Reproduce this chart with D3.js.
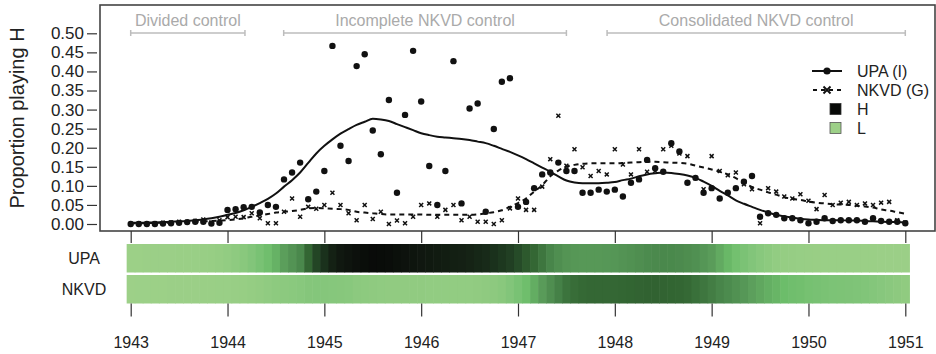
<!DOCTYPE html>
<html>
<head>
<meta charset="utf-8">
<script src="https://d3js.org/d3.v7.min.js"></script>
<style>
  html, body { margin: 0; padding: 0; background: #fff; }
  svg { display: block; font-family: "Liberation Sans", Arial, Helvetica, sans-serif; }
</style>
</head>
<body>
<svg id="chart" width="936" height="354"></svg>
<script>
// monthly observations, Jan 1943 .. Jan 1951
const startYear = 1943;
const years = [1943, 1944, 1945, 1946, 1947, 1948, 1949, 1950, 1951];
const yTicks = [0, 0.05, 0.10, 0.15, 0.20, 0.25, 0.30, 0.35, 0.40, 0.45, 0.50];

const upaPoints = [
  0.000, 0.000, 0.000, 0.000, 0.001, 0.002, 0.003, 0.005, 0.006, 0.006, 0.001, 0.003,
  0.037, 0.039, 0.044, 0.045, 0.030, 0.050, 0.045, 0.117, 0.135, 0.161, 0.065, 0.085,
  0.139, 0.467, 0.205, 0.165, 0.414, 0.445, 0.245, 0.183, 0.325, 0.082, 0.286, 0.454,
  0.321, 0.152, 0.050, 0.139, 0.427, 0.054, 0.303, 0.316, 0.032, 0.249, 0.373, 0.382,
  0.045, 0.058, 0.094, 0.130, 0.135, 0.161, 0.139, 0.139, 0.082, 0.082, 0.090, 0.085,
  0.090, 0.072, 0.108, 0.117, 0.168, 0.146, 0.137, 0.212, 0.190, 0.108, 0.121, 0.082,
  0.094, 0.067, 0.082, 0.094, 0.111, 0.126, 0.019, 0.028, 0.024, 0.015, 0.015, 0.010,
  0.002, 0.006, 0.015, 0.008, 0.010, 0.010, 0.010, 0.006, 0.015, 0.008, 0.006, 0.006, 0.002
];

const nkvdPoints = [
  0.000, 0.001, 0.000, 0.002, 0.003, 0.004, 0.006, 0.005, 0.008, 0.012, 0.004, 0.010,
  0.018, 0.019, 0.018, 0.028, 0.015, 0.002, 0.002, 0.032, 0.067, 0.019, 0.045, 0.040,
  0.050, 0.082, 0.050, 0.028, 0.010, 0.050, 0.013, 0.032, 0.000, 0.009, 0.002, 0.019,
  0.050, 0.054, 0.019, 0.037, 0.050, 0.010, 0.019, 0.006, 0.006, 0.000, 0.010, 0.041,
  0.067, 0.037, 0.037, 0.098, 0.170, 0.284, 0.153, 0.196, 0.149, 0.126, 0.139, 0.130,
  0.196, 0.156, 0.130, 0.196, 0.137, 0.139, 0.196, 0.205, 0.185, 0.178, 0.120, 0.091,
  0.178, 0.139, 0.128, 0.135, 0.104, 0.091, 0.002, 0.094, 0.085, 0.072, 0.067, 0.078,
  0.061, 0.039, 0.076, 0.050, 0.056, 0.058, 0.050, 0.054, 0.050, 0.056, 0.058, 0.010, 0.004
];

// smoothed trends (also drive the strip shading)
const upaSmooth = [
  0.003, 0.003, 0.004, 0.004, 0.005, 0.006, 0.007, 0.008, 0.010, 0.012, 0.015, 0.019,
  0.024, 0.029, 0.036, 0.045, 0.055, 0.066, 0.080, 0.098, 0.115, 0.135, 0.160, 0.185,
  0.205, 0.222, 0.237, 0.249, 0.260, 0.268, 0.276, 0.274, 0.270, 0.262, 0.254, 0.246,
  0.238, 0.233, 0.229, 0.227, 0.225, 0.223, 0.220, 0.216, 0.212, 0.205, 0.197, 0.189,
  0.180, 0.170, 0.159, 0.148, 0.137, 0.125, 0.114, 0.109, 0.107, 0.107, 0.107, 0.108,
  0.110, 0.115, 0.119, 0.125, 0.130, 0.133, 0.135, 0.134, 0.131, 0.127, 0.121, 0.111,
  0.100, 0.087, 0.075, 0.062, 0.053, 0.045, 0.037, 0.030, 0.024, 0.020, 0.017, 0.014,
  0.012, 0.011, 0.010, 0.010, 0.010, 0.009, 0.009, 0.008, 0.007, 0.006, 0.005, 0.005, 0.004
];

const nkvdSmooth = [
  0.001, 0.002, 0.002, 0.003, 0.003, 0.004, 0.005, 0.006, 0.006, 0.007, 0.008, 0.009,
  0.010, 0.012, 0.015, 0.019, 0.022, 0.026, 0.030, 0.032, 0.034, 0.037, 0.041, 0.042,
  0.041, 0.040, 0.039, 0.037, 0.032, 0.030, 0.028, 0.026, 0.025, 0.025, 0.025, 0.025,
  0.025, 0.024, 0.024, 0.024, 0.024, 0.024, 0.024, 0.025, 0.028, 0.031, 0.036, 0.045,
  0.055, 0.067, 0.085, 0.102, 0.125, 0.140, 0.150, 0.155, 0.158, 0.159, 0.159, 0.159,
  0.159, 0.160, 0.161, 0.162, 0.163, 0.163, 0.162, 0.161, 0.160, 0.158, 0.153, 0.148,
  0.143, 0.137, 0.130, 0.120, 0.108, 0.097, 0.090, 0.083, 0.077, 0.070, 0.066, 0.063,
  0.059, 0.056, 0.054, 0.052, 0.051, 0.050, 0.048, 0.046, 0.043, 0.038, 0.035, 0.031, 0.027
];

const periodNames = ['Divided control', 'Incomplete NKVD control', 'Consolidated NKVD control'];
const periodStart = [1943.0, 1944.58, 1947.92];
const periodEnd = [1944.18, 1947.5, 1951.0];

const stripNames = ['UPA', 'NKVD'];
const legendNames = ['UPA (I)', 'NKVD (G)', 'H', 'L'];

const svg = d3.select('#chart');

const x = d3.scaleLinear().domain([1943, 1951]).range([130.7, 905.3]);
const y = d3.scaleLinear().domain([0, 0.5]).range([224, 33.3]);
const shade = d3.scaleLinear()
  .domain([0, 0.02, 0.045, 0.07, 0.1, 0.135, 0.16, 0.19, 0.23, 0.28])
  .range(['#9dd088', '#95cd83', '#82c57a', '#6cbd6a', '#5a9c5a', '#4a884c', '#336633', '#203e22', '#111a11', '#080a08'])
  .clamp(true);

const t = (i) => startYear + i / 12;

// plot box
svg.append('rect')
  .attr('x', 100).attr('y', 5)
  .attr('width', 835).attr('height', 226)
  .attr('fill', 'none')
  .attr('stroke', '#444')
  .attr('stroke-width', 1.6);

// y axis
const yAxis = svg.append('g')
  .attr('transform', 'translate(97,0)')
  .call(d3.axisLeft(y).tickValues(yTicks).tickFormat(d3.format('.2f')).tickSize(10).tickPadding(3));
yAxis.select('.domain').remove();
yAxis.selectAll('line').attr('stroke', '#333').attr('stroke-width', 1.2);
yAxis.selectAll('text').attr('font-size', 17).attr('fill', '#222').attr('font-family', null);

svg.append('text')
  .attr('transform', 'translate(24,118) rotate(-90)')
  .attr('text-anchor', 'middle')
  .attr('font-size', 20)
  .attr('fill', '#222')
  .text('Proportion playing H');

// ticks under the top panel
const xTop = svg.append('g')
  .attr('transform', 'translate(0,231)')
  .call(d3.axisBottom(x).tickValues(years).tickSize(12).tickFormat(''));
xTop.select('.domain').remove();
xTop.selectAll('line').attr('stroke', '#333').attr('stroke-width', 1.2);

// period brackets
const periods = svg.append('g');
periodNames.forEach((name, i) => {
  const x0 = x(periodStart[i]), x1 = x(periodEnd[i]);
  const g = periods.append('g').attr('stroke', '#bdbdbd').attr('stroke-width', 1.5);
  g.append('line').attr('x1', x0).attr('x2', x1).attr('y1', 33).attr('y2', 33);
  g.append('line').attr('x1', x0).attr('x2', x0).attr('y1', 30).attr('y2', 36);
  g.append('line').attr('x1', x1).attr('x2', x1).attr('y1', 30).attr('y2', 36);
  periods.append('text')
    .attr('x', (x0 + x1) / 2).attr('y', 26)
    .attr('text-anchor', 'middle')
    .attr('font-size', 16)
    .attr('fill', '#aaaaaa')
    .text(name);
});

// smoothed lines
const line = d3.line()
  .x((d, i) => x(t(i)))
  .y((d) => y(d))
  .curve(d3.curveMonotoneX);

svg.append('path')
  .datum(nkvdSmooth)
  .attr('d', line)
  .attr('fill', 'none')
  .attr('stroke', '#111')
  .attr('stroke-width', 2)
  .attr('stroke-dasharray', '5,4');

svg.append('path')
  .datum(upaSmooth)
  .attr('d', line)
  .attr('fill', 'none')
  .attr('stroke', '#111')
  .attr('stroke-width', 2);

// NKVD observations: crosses
const cross = d3.symbol().type(d3.symbolX).size(12);
svg.append('g').selectAll('path')
  .data(nkvdPoints)
  .enter().append('path')
  .attr('transform', (d, i) => 'translate(' + x(t(i)) + ',' + y(d) + ')')
  .attr('d', cross)
  .attr('fill', 'none')
  .attr('stroke', '#111')
  .attr('stroke-width', 1.5);

// UPA observations: dots
svg.append('g').selectAll('circle')
  .data(upaPoints)
  .enter().append('circle')
  .attr('cx', (d, i) => x(t(i)))
  .attr('cy', (d) => y(d))
  .attr('r', 3.2)
  .attr('fill', '#111');

// legend
const legend = svg.append('g');
const ly = [71, 90, 109, 128];
legend.append('line').attr('x1', 812).attr('x2', 842).attr('y1', ly[0]).attr('y2', ly[0])
  .attr('stroke', '#111').attr('stroke-width', 2);
legend.append('circle').attr('cx', 827).attr('cy', ly[0]).attr('r', 3.6).attr('fill', '#111');
legend.append('line').attr('x1', 812).attr('x2', 842).attr('y1', ly[1]).attr('y2', ly[1])
  .attr('stroke', '#111').attr('stroke-width', 2).attr('stroke-dasharray', '4,4').attr('stroke-dashoffset', -1);
legend.append('path').attr('transform', 'translate(827,' + ly[1] + ')')
  .attr('d', d3.symbol().type(d3.symbolX).size(34))
  .attr('fill', 'none').attr('stroke', '#111').attr('stroke-width', 1.9);
legend.append('rect').attr('x', 830).attr('y', ly[2] - 5.5).attr('width', 11).attr('height', 11)
  .attr('fill', shade(0.28)).attr('stroke', '#333').attr('stroke-width', 0.8);
legend.append('rect').attr('x', 830).attr('y', ly[3] - 5.5).attr('width', 11).attr('height', 11)
  .attr('fill', shade(0)).attr('stroke', '#555').attr('stroke-width', 0.8);
legendNames.forEach((name, i) => {
  legend.append('text')
    .attr('x', 857).attr('y', ly[i])
    .attr('dy', '0.36em')
    .attr('font-size', 16)
    .attr('fill', '#222')
    .text(name);
});

// shaded strips
const cellW = (x(1951) - x(1943)) / 96;
const stripTop = [244, 275];
const stripH = 28.5;
[upaSmooth, nkvdSmooth].forEach((series, k) => {
  svg.append('g').selectAll('rect')
    .data(series)
    .enter().append('rect')
    .attr('x', (d, i) => x(t(i)) - cellW / 2)
    .attr('y', stripTop[k])
    .attr('width', cellW + 0.6)
    .attr('height', stripH)
    .attr('fill', (d) => shade(d));
  svg.append('text')
    .attr('x', 84).attr('y', stripTop[k] + stripH / 2)
    .attr('dy', '0.36em')
    .attr('text-anchor', 'middle')
    .attr('font-size', 16)
    .attr('fill', '#222')
    .text(stripNames[k]);
});

// bottom axis
const xAxis = svg.append('g')
  .attr('transform', 'translate(0,303.5)')
  .call(d3.axisBottom(x).tickValues(years).tickSize(13).tickPadding(20).tickFormat(d3.format('d')));
xAxis.select('.domain').remove();
xAxis.selectAll('line').attr('stroke', '#333').attr('stroke-width', 1.2);
xAxis.selectAll('text').attr('font-size', 16).attr('fill', '#222').attr('font-family', null);
</script>
</body>
</html>
